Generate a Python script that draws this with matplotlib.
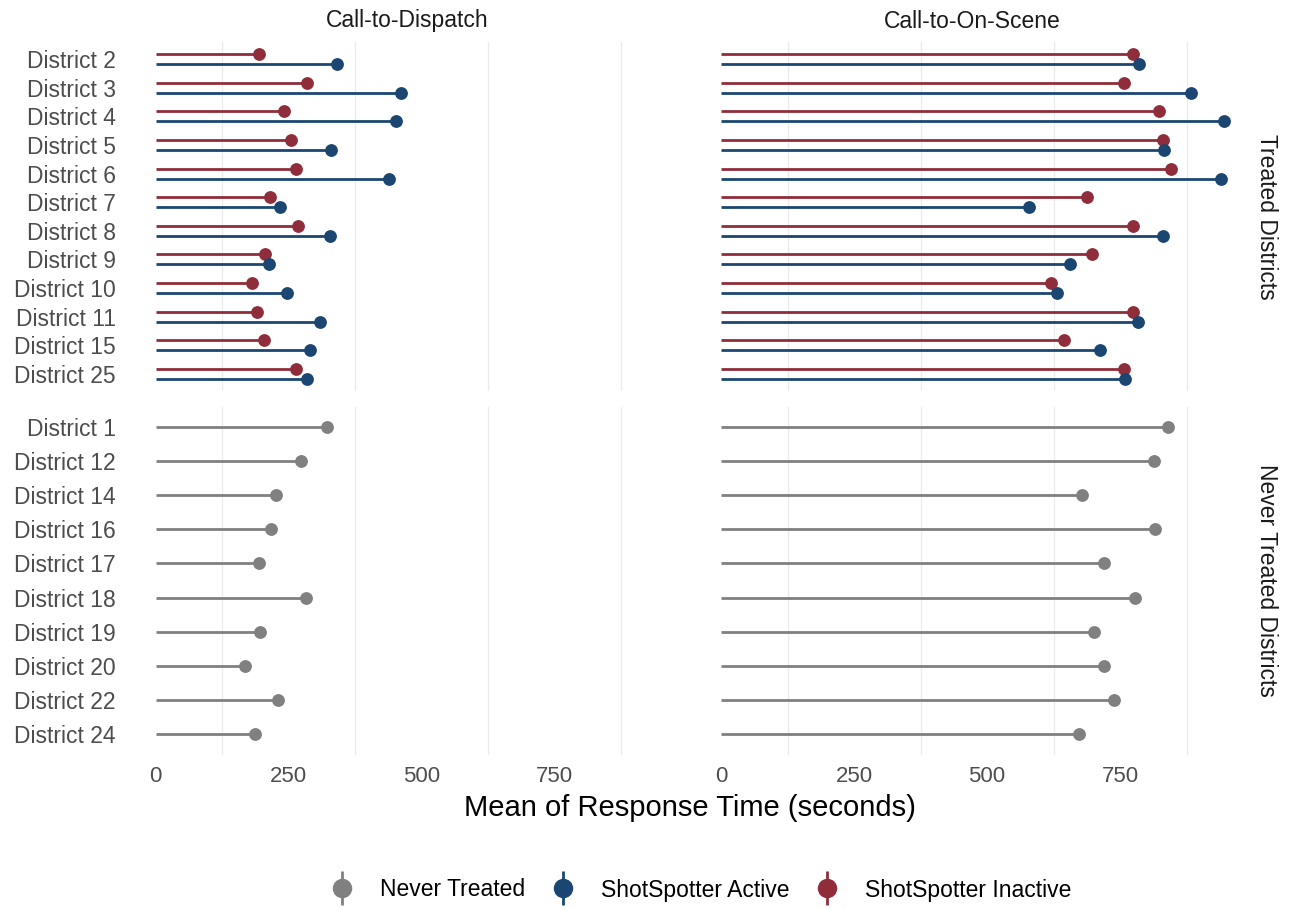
import numpy as np
import matplotlib
matplotlib.use("Agg")
import matplotlib.pyplot as plt
from matplotlib.lines import Line2D

plt.rcParams['font.family'] = ['Liberation Sans', 'DejaVu Sans']

# data (seconds)
treated_districts = ["District 2", "District 3", "District 4", "District 5", "District 6",
                     "District 7", "District 8", "District 9", "District 10", "District 11",
                     "District 15", "District 25"]
dispatch_active = [342, 461, 452, 329, 439, 234, 328, 214, 247, 310, 290, 284]
dispatch_inactive = [194, 285, 242, 254, 264, 216, 267, 205, 181, 191, 203, 264]
onscene_active = [785, 883, 945, 832, 940, 579, 830, 656, 632, 784, 713, 760]
onscene_inactive = [775, 758, 823, 830, 846, 688, 775, 697, 621, 775, 645, 757]

never_districts = ["District 1", "District 12", "District 14", "District 16", "District 17",
                   "District 18", "District 19", "District 20", "District 22", "District 24"]
dispatch_never = [323, 274, 227, 217, 195, 282, 196, 168, 230, 187]
onscene_never = [841, 813, 679, 815, 719, 779, 702, 719, 738, 673]

measures = ["Call-to-Dispatch", "Call-to-On-Scene"]
groups = ["Treated Districts", "Never Treated Districts"]
legend_labels = ["Never Treated", "ShotSpotter Active", "ShotSpotter Inactive"]

col_never = "#808080"
col_active = "#1B4671"
col_inactive = "#8F2E3A"

W, H = 1291, 909
fig = plt.figure(figsize=(W / 100, H / 100), dpi=100)

# x scale shared across panels, 5% expansion like ggplot
all_vals = dispatch_active + dispatch_inactive + onscene_active + onscene_inactive + dispatch_never + onscene_never
xmax = max(all_vals)
xlim = (-0.05 * xmax, xmax * 1.05)

panel_x = [130.4, 695.9]
panel_w = 553.0
panel_y = [(41.8, 391.2), (406.5, 754.5)]

dodge = 0.175
lw = 2.0
ms = 8.2


def make_ax(col, row):
    x0 = panel_x[col] / W
    top, bot = panel_y[row]
    ax = fig.add_axes([x0, (H - bot) / H, panel_w / W, (bot - top) / H])
    for s in ax.spines.values():
        s.set_visible(False)
    ax.set_xlim(xlim)
    ax.set_xticks([0, 250, 500, 750])
    ax.set_xticks([125, 375, 625, 875], minor=True)
    ax.grid(True, which="minor", axis="x", color="#EBEBEB", linewidth=0.9)
    ax.grid(False, which="major")
    ax.tick_params(which="both", length=0)
    ax.tick_params(axis="x", labelsize=16, labelcolor="#4D4D4D", pad=8)
    ax.tick_params(axis="y", labelsize=16.5, labelcolor="#4D4D4D", pad=10.5)
    ax.set_axisbelow(True)
    return ax


def draw_treated(ax, active, inactive):
    y = np.arange(len(treated_districts))
    ax.hlines(y - dodge, 0, inactive, color=col_inactive, linewidth=lw)
    ax.hlines(y + dodge, 0, active, color=col_active, linewidth=lw)
    ax.plot(inactive, y - dodge, 'o', color=col_inactive, markersize=ms, zorder=3)
    ax.plot(active, y + dodge, 'o', color=col_active, markersize=ms, zorder=3)
    ax.set_ylim(len(y) - 1 + 0.6, -0.6)
    ax.set_yticks(y)
    ax.set_yticklabels(treated_districts)


def draw_never(ax, vals):
    y = np.arange(len(never_districts))
    ax.hlines(y, 0, vals, color=col_never, linewidth=lw)
    ax.plot(vals, y, 'o', color=col_never, markersize=ms, zorder=3)
    ax.set_ylim(len(y) - 1 + 0.6, -0.6)
    ax.set_yticks(y)
    ax.set_yticklabels(never_districts)


ax1 = make_ax(0, 0)
draw_treated(ax1, dispatch_active, dispatch_inactive)
ax2 = make_ax(1, 0)
draw_treated(ax2, onscene_active, onscene_inactive)
ax3 = make_ax(0, 1)
draw_never(ax3, dispatch_never)
ax4 = make_ax(1, 1)
draw_never(ax4, onscene_never)

for ax in (ax1, ax2):
    ax.tick_params(axis="x", labelbottom=False)
for ax in (ax2, ax4):
    ax.tick_params(axis="y", labelleft=False)

# facet strips
for i, m in enumerate(measures):
    fig.text((panel_x[i] + panel_w / 2) / W, 1 - 21 / H, m, ha="center", va="center",
             fontsize=16.5, color="#1A1A1A")
for j, g in enumerate(groups):
    top, bot = panel_y[j]
    fig.text(1267 / W, 1 - (top + bot) / 2 / H, g, ha="center", va="center",
             rotation=-90, fontsize=16.5, color="#1A1A1A")

fig.text(690 / W, 1 - 808 / H, "Mean of Response Time (seconds)", ha="center", va="center",
         fontsize=21, color="black")

# legend: point with a vertical segment through it
handles = []
for c in [col_never, col_active, col_inactive]:
    vline = Line2D([], [], linestyle="none", marker="|", markersize=25, markeredgewidth=2, color=c)
    dot = Line2D([], [], linestyle="none", marker="o", markersize=13, color=c)
    handles.append((vline, dot))
fig.legend(handles, legend_labels, loc="center", bbox_to_anchor=(701 / W, 1 - 890 / H),
           ncol=3, frameon=False, fontsize=16.5, handlelength=1.0, handletextpad=1.15,
           columnspacing=1.15)

fig.savefig("out.png", dpi=100)
